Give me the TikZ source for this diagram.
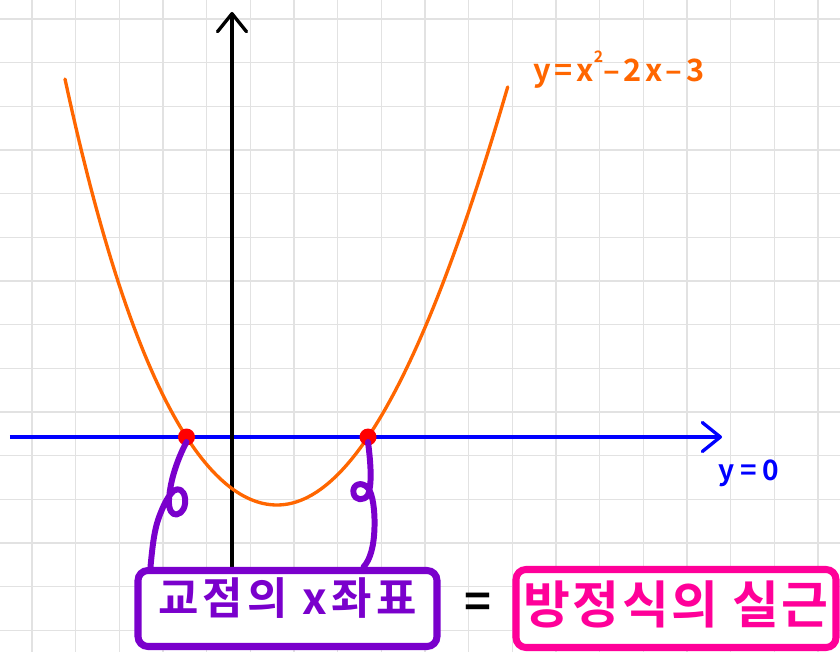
\documentclass[tikz,border=0pt]{standalone}
\usepackage{fontspec}
\newfontfamily\hfont{Noto Sans CJK KR Bold}
\usetikzlibrary{arrows.meta}
\definecolor{arancio}{RGB}{255,102,0}
\definecolor{viola}{RGB}{122,0,204}
\definecolor{rosa}{RGB}{255,0,153}
\definecolor{grigio}{RGB}{226,226,226}
\begin{document}
\begin{tikzpicture}[
    asse/.style={line width=1.9pt,-{Straight Barb[length=0.36cm,width=0.58cm,round]}},
    punto/.style={circle,fill=red,inner sep=0pt,minimum size=0.34cm},
    riquadro/.style={draw,line width=4pt,rounded corners=0.2cm,fill=white,inner sep=0pt},
    legame/.style={viola,line width=3.4pt,line cap=round,line join=round}]
    \useasboundingbox (0,0) rectangle (16.8,13.04);
    %griglia
    \draw[grigio,line width=0.8pt,step=0.8734,shift={(0.64,0.432)}] (-0.64,-0.432) grid (16.16,12.608);
    %assi
    \draw[asse,blue] (0.2,4.3)--(14.44,4.3); %asse x
    \draw[asse,black] (4.64,1.64)--(4.64,12.8); %asse y
    %parabola (vertice in (5.54,2.94))
    \draw[arancio,line width=1.9pt,line cap=round,samples=60] plot[domain=4.24:0] ({5.54-\x},{2.94+0.402*\x^2+0.004*\x^4}) -- plot[domain=0:4.614] ({5.54+\x},{2.94+0.41388*\x^2-0.000996*\x^4});
    \node[text=arancio,anchor=base west,inner sep=0pt] (nomepar) at (10.66,11.4) {\hfont\addfontfeatures{LetterSpace=12}\fontsize{17.5}{17.5}\selectfont y=x\raisebox{0.62em}{\fontsize{9}{9}\selectfont 2}–2x–3};
    \node[text=blue,anchor=base west,inner sep=0pt] (nomeasse) at (14.36,3.44) {\hfont\addfontfeatures{LetterSpace=20}\fontsize{16}{16}\selectfont y=0};
    %intersezioni
    \node[punto] (A) at (3.73,4.3) {};
    \node[punto] (B) at (7.36,4.3) {};
    %riquadri
    \node[riquadro,draw=viola,text=viola,minimum width=5.98cm,minimum height=1.52cm,text height=0.69cm,text depth=0.45cm] (bxA) at (5.75,0.87) {\hfont\addfontfeatures{LetterSpace=10}\fontsize{25}{25}\selectfont 교점의 x좌표};
    \node[riquadro,draw=rosa,text=rosa,minimum width=6.4cm,minimum height=1.56cm,text height=0.87cm,text depth=0.26cm] (bxB) at (13.52,0.87) {\hfont\addfontfeatures{LetterSpace=5}\fontsize{29}{29}\selectfont 방정식의 실근};
    \node (uguale) at (9.56,0.93) {\hfont\fontsize{26}{26}\selectfont =};
    %collegamenti
    \draw[legame] ([yshift=-0.1cm]A.center) .. controls (3.56,3.88) and (3.40,3.44) .. (3.38,3.04) .. controls (3.37,2.84) and (3.44,2.74) .. (3.53,2.75) .. controls (3.66,2.77) and (3.72,2.92) .. (3.70,3.08) .. controls (3.68,3.24) and (3.56,3.30) .. (3.47,3.22) .. controls (3.36,3.12) and (3.28,2.95) .. (3.22,2.80) .. controls (3.10,2.52) and (3.06,2.24) .. ([xshift=0.32cm]bxA.north west);
    \draw[legame] ([yshift=-0.1cm]B.center) .. controls (7.42,3.74) and (7.44,3.34) .. (7.36,3.14) .. controls (7.28,3.02) and (7.10,3.02) .. (7.07,3.18) .. controls (7.04,3.36) and (7.24,3.42) .. (7.36,3.28) .. controls (7.46,3.16) and (7.50,2.80) .. (7.49,2.50) .. controls (7.48,2.10) and (7.40,1.84) .. ([xshift=4.58cm]bxA.north west);
\end{tikzpicture}
\end{document}
